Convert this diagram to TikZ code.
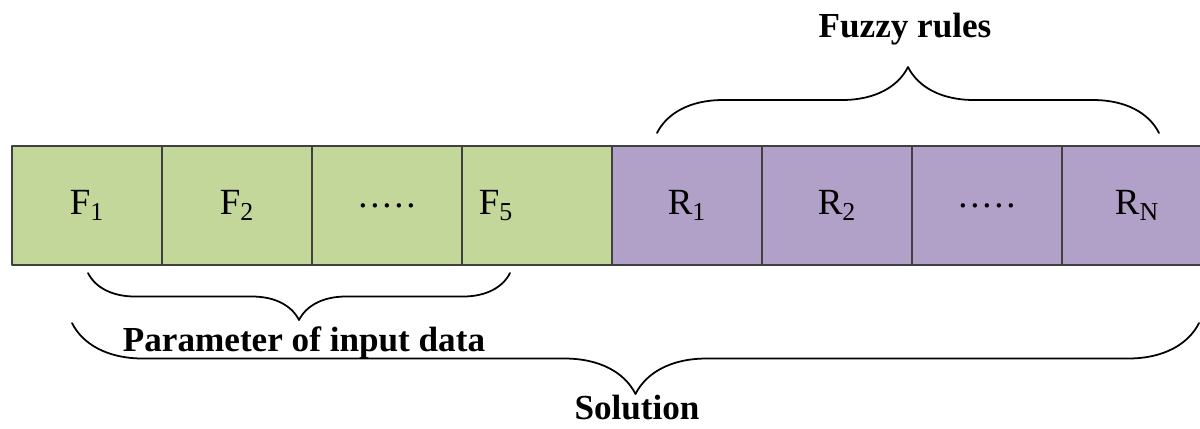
\documentclass[tikz,border=0pt]{standalone}
\usepackage{fontspec}
\setmainfont{Liberation Serif}
\usetikzlibrary{positioning,decorations.pathreplacing}
\definecolor{fgreen}{RGB}{196,215,155}
\definecolor{rpurple}{RGB}{177,160,199}
\newcommand\fivedots{.\kern1.6pt.\kern1.6pt.\kern1.6pt.\kern1.6pt.}
\begin{document}
\begin{tikzpicture}[line join=round,line cap=round,
	cell/.style={draw=black!75,line width=.9pt,minimum width=3cm,minimum height=2.38cm,inner sep=0pt,outer sep=0pt,font=\fontsize{21}{25}\selectfont},
	fcell/.style={cell,fill=fgreen},
	rcell/.style={cell,fill=rpurple},
	curly/.style={decorate,decoration={brace,amplitude=#1},line width=1pt},
	tag/.style={font=\fontsize{20}{24}\selectfont\bfseries,anchor=base,inner sep=0pt}]
	\useasboundingbox (0,0) rectangle (24,-8.56);
	% the solution string
	\node[fcell,anchor=north west] (f1) at (0.24,-2.92) {F\textsubscript{1}};
	\node[fcell,right=0pt of f1] (f2) {F\textsubscript{2}};
	\node[fcell,right=0pt of f2] (f3) {\fivedots};
	\node[fcell,right=0pt of f3] (f5) {F\textsubscript{5}\hspace*{1.64cm}\mbox{}};
	\node[rcell,right=0pt of f5] (r1) {R\textsubscript{1}};
	\node[rcell,right=0pt of r1] (r2) {R\textsubscript{2}};
	\node[rcell,right=0pt of r2] (r3) {\fivedots};
	\node[rcell,right=0pt of r3] (rn) {R\textsubscript{N}};
	% brace ends
	\coordinate (fz1) at (13.14,-2.66);
	\coordinate (fz2) at (23.18,-2.66);
	\coordinate (pm1) at (1.76,-5.46);
	\coordinate (pm2) at (10.20,-5.46);
	\coordinate (so1) at (1.44,-6.46);
	\coordinate (so2) at (23.98,-6.46);
	\draw[curly=1.32cm] (fz1) -- (fz2);
	\draw[curly=.94cm,decoration={mirror}] (pm1) -- (pm2);
	\draw[curly=1.42cm,decoration={mirror}] (so1) -- (so2);
	\node[tag] (fuzzy) at (18.1,-0.74) {Fuzzy rules};
	\node[tag] (param) at (6.08,-7.02) {Parameter of input data};
	\node[tag] (sol) at (12.74,-8.38) {Solution};
\end{tikzpicture}
\end{document}
